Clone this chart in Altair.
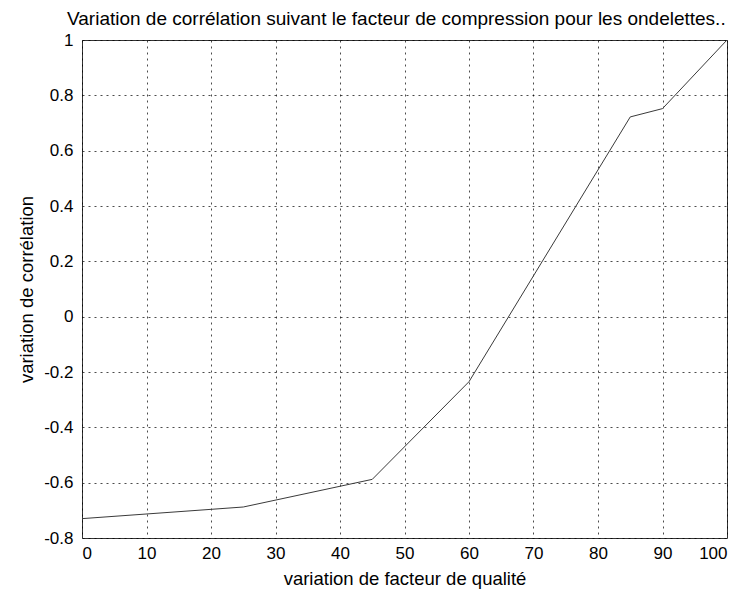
import altair as alt
import pandas as pd

quality = [0, 25, 45, 60, 85, 90, 100]
correlation = [-0.73, -0.688, -0.588, -0.235, 0.722, 0.752, 1.0]

df = pd.DataFrame({"q": quality, "c": correlation})

FONT = "Liberation Sans"

chart = alt.Chart(df).mark_line(color="#3a3a3a", strokeWidth=1).encode(
    x=alt.X("q:Q", scale=alt.Scale(domain=[0, 100], nice=False),
            axis=alt.Axis(values=list(range(0, 101, 10)), title="variation de facteur de qualité",
                          grid=True, gridDash=[2, 4], gridColor="#000000", gridOpacity=0.7,
                          ticks=False, domain=False, labelFont=FONT, labelFontSize=17,
                          labelColor="#000000", labelPadding=7, titleFont=FONT, titleFontSize=18.5,
                          titleFontWeight="normal", titleColor="#000000", titlePadding=8)),
    y=alt.Y("c:Q", scale=alt.Scale(domain=[-0.8, 1], nice=False),
            axis=alt.Axis(values=[-0.8, -0.6, -0.4, -0.2, 0, 0.2, 0.4, 0.6, 0.8, 1],
                          title="variation de corrélation", format="~g",
                          labelExpr="replace(datum.label, '\u2212', '-')",
                          grid=True, gridDash=[2, 4], gridColor="#000000", gridOpacity=0.7,
                          ticks=False, domain=False, labelFont=FONT, labelFontSize=17,
                          labelColor="#000000", labelPadding=9, titleFont=FONT, titleFontSize=18.5,
                          titleFontWeight="normal", titleColor="#000000", titlePadding=7)),
).properties(
    width=645, height=498,
    title=alt.TitleParams("Variation de corrélation suivant le facteur de compression pour les ondelettes..",
                          font=FONT, fontSize=19, fontWeight="normal", color="#000000",
                          anchor="start", frame="group", dx=-15, offset=2),
    autosize=alt.AutoSizeParams(type="none"),
    padding={"left": 74, "top": 32, "right": 9, "bottom": 54},
).configure_view(stroke="#333333", strokeWidth=1)

chart.save("out.html", embed_options={"renderer": "svg", "actions": False})
